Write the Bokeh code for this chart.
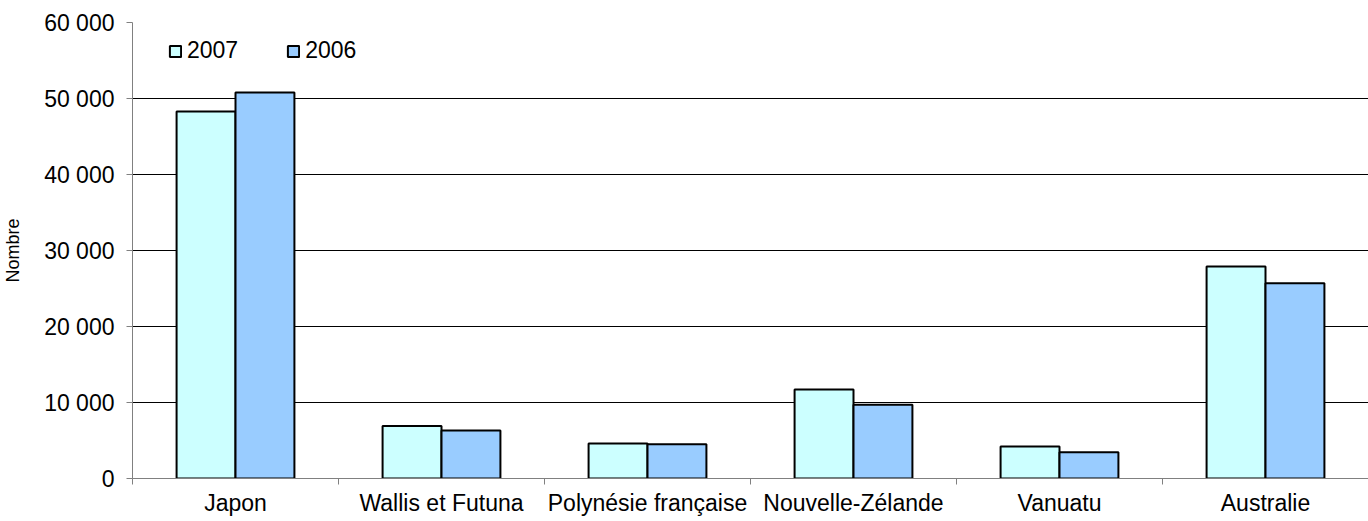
from bokeh.plotting import figure
from bokeh.models import ColumnDataSource, Range1d, FixedTicker, Legend, LegendItem
from bokeh.transform import dodge
from bokeh.embed import file_html
from bokeh.resources import INLINE

categories = ["Japon", "Wallis et Futuna", "Polynésie française", "Nouvelle-Zélande", "Vanuatu", "Australie"]
v2007 = [48300, 6900, 4600, 11700, 4200, 27900]
v2006 = [50800, 6300, 4500, 9700, 3450, 25700]
y_ticks = [0, 10000, 20000, 30000, 40000, 50000, 60000]
y_tick_labels = ["0", "10 000", "20 000", "30 000", "40 000", "50 000", "60 000"]
series_names = ["2007", "2006"]
y_title = "Nombre"

FONT = "Liberation Sans"

src = ColumnDataSource(dict(x=list(range(len(categories))), v2007=v2007, v2006=v2006))

p = figure(width=1368, height=521, output_backend="svg", toolbar_location=None,
           x_range=Range1d(-0.5, len(categories) - 0.5), y_range=Range1d(0, 60000),
           min_border_left=130, min_border_right=0, min_border_top=22, min_border_bottom=43)
p.outline_line_color = None
p.background_fill_color = "white"
p.border_fill_color = "white"

bw = 0.286
r1 = p.vbar(x=dodge("x", -bw / 2, range=p.x_range), top="v2007", width=bw, source=src,
            fill_color="#CCFFFF", line_color="black", line_width=2)
r2 = p.vbar(x=dodge("x", bw / 2, range=p.x_range), top="v2006", width=bw, source=src,
            fill_color="#99CCFF", line_color="black", line_width=2)

# x axis
xa = p.xaxis[0]
xa.ticker = FixedTicker(ticks=list(range(len(categories))),
                        minor_ticks=[i - 0.5 for i in range(len(categories) + 1)])
xa.major_label_overrides = {i: c for i, c in enumerate(categories)}
xa.major_tick_line_color = None
xa.minor_tick_line_color = "#808080"
xa.minor_tick_out = 6
xa.minor_tick_in = 0
xa.axis_line_color = "#808080"
xa.major_label_text_font = FONT
xa.major_label_text_font_size = "23px"
xa.major_label_text_color = "black"
xa.major_label_standoff = 5

# y axis
ya = p.yaxis[0]
ya.ticker = FixedTicker(ticks=y_ticks)
ya.major_label_overrides = {t: l for t, l in zip(y_ticks, y_tick_labels)}
ya.minor_tick_line_color = None
ya.major_tick_out = 6
ya.major_tick_in = 0
ya.major_tick_line_color = "#808080"
ya.axis_line_color = "#808080"
ya.major_label_text_font = FONT
ya.major_label_text_font_size = "23px"
ya.major_label_text_color = "black"
ya.major_label_standoff = 12
ya.axis_label = y_title
ya.axis_label_text_font = FONT
ya.axis_label_text_font_size = "18px"
ya.axis_label_text_font_style = "normal"
ya.axis_label_text_color = "black"
ya.axis_label_standoff = 18

p.xgrid.grid_line_color = None
p.ygrid.grid_line_color = "black"
p.ygrid.grid_line_width = 1
p.ygrid.ticker = FixedTicker(ticks=y_ticks)

legend = Legend(items=[LegendItem(label=series_names[0], renderers=[r1]),
                       LegendItem(label=series_names[1], renderers=[r2])],
                orientation="horizontal", location=(36, 414))
legend.border_line_color = None
legend.background_fill_alpha = 0
legend.label_text_font = FONT
legend.label_text_font_size = "23px"
legend.label_text_color = "black"
legend.glyph_width = 14
legend.glyph_height = 14
legend.label_standoff = 5
legend.spacing = 48
legend.padding = 8
legend.margin = 0
p.add_layout(legend, "center")

open("out.html", "w").write(file_html(p, INLINE))
